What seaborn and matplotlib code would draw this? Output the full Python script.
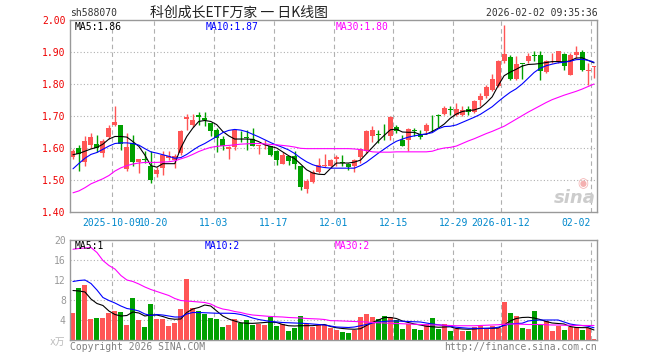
import matplotlib
matplotlib.use("Agg")
import numpy as np
import pandas as pd
import matplotlib.pyplot as plt
import seaborn as sns

# ---------- data ----------
tick_pos = [7, 14, 24, 34, 44, 54, 64, 72, 87]
tick_labels = ["2025-10-09", "10-20", "11-03", "11-17", "12-01",
               "12-15", "12-29", "2026-01-12", "02-02"]

opens = [1.572, 1.600, 1.555, 1.609, 1.614, 1.584, 1.634, 1.672, 1.673, 1.533,
         1.615, 1.557, 1.567, 1.545, 1.518, 1.537, 1.569, 1.564, 1.584, 1.691,
         1.673, 1.703, 1.695, 1.678, 1.655, 1.628, 1.598, 1.602, 1.637, 1.632,
         1.628, 1.606, 1.608, 1.605, 1.592, 1.551, 1.574, 1.576, 1.543, 1.473,
         1.494, 1.525, 1.544, 1.543, 1.565, 1.554, 1.551, 1.545, 1.571, 1.590,
         1.6365, 1.643, 1.651, 1.6365, 1.666, 1.626, 1.626, 1.656, 1.644, 1.652,
         1.684, 1.703, 1.707, 1.721, 1.704, 1.704, 1.722, 1.7125, 1.751, 1.761,
         1.782, 1.793, 1.873, 1.884, 1.816, 1.863, 1.871, 1.890, 1.892, 1.8375,
         1.880, 1.869, 1.895, 1.827, 1.892, 1.900, 1.841, 1.853]
closes = [1.592, 1.580, 1.623, 1.635, 1.599, 1.623, 1.662, 1.682, 1.612, 1.602,
          1.557, 1.567, 1.561, 1.501, 1.532, 1.579, 1.576, 1.574, 1.652, 1.696,
          1.688, 1.698, 1.689, 1.652, 1.630, 1.607, 1.602, 1.655, 1.636, 1.631,
          1.607, 1.608, 1.610, 1.579, 1.5635, 1.577, 1.558, 1.551, 1.477, 1.496,
          1.525, 1.547, 1.546, 1.561, 1.571, 1.553, 1.540, 1.5635, 1.597, 1.652,
          1.657, 1.641, 1.649, 1.696, 1.652, 1.607, 1.659, 1.654, 1.633, 1.673,
          1.683, 1.701, 1.725, 1.719, 1.723, 1.720, 1.711, 1.748, 1.761, 1.790,
          1.817, 1.873, 1.895, 1.817, 1.8625, 1.862, 1.889, 1.889, 1.840, 1.871,
          1.882, 1.902, 1.855, 1.892, 1.900, 1.845, 1.843, 1.855]
highs = [1.598, 1.609, 1.636, 1.647, 1.642, 1.628, 1.673, 1.730, 1.673, 1.647,
         1.642, 1.567, 1.590, 1.590, 1.540, 1.590, 1.590, 1.580, 1.655, 1.707,
         1.707, 1.714, 1.714, 1.678, 1.662, 1.6385, 1.605, 1.659, 1.652, 1.657,
         1.6625, 1.609, 1.626, 1.606, 1.595, 1.5875, 1.574, 1.590, 1.543, 1.503,
         1.530, 1.569, 1.581, 1.567, 1.5785, 1.579, 1.553, 1.567, 1.600, 1.655,
         1.670, 1.657, 1.675, 1.699, 1.673, 1.640, 1.6625, 1.6625, 1.657, 1.678,
         1.704, 1.707, 1.730, 1.730, 1.741, 1.730, 1.730, 1.751, 1.772, 1.798,
         1.831, 1.876, 1.985, 1.892, 1.886, 1.864, 1.897, 1.904, 1.902, 1.876,
         1.897, 1.904, 1.897, 1.897, 1.918, 1.907, 1.866, 1.856]
lows = [1.565, 1.527, 1.545, 1.600, 1.586, 1.571, 1.628, 1.670, 1.595, 1.527,
        1.543, 1.522, 1.553, 1.490, 1.510, 1.517, 1.564, 1.537, 1.579, 1.657,
        1.665, 1.673, 1.670, 1.636, 1.586, 1.595, 1.567, 1.595, 1.619, 1.595,
        1.605, 1.581, 1.598, 1.574, 1.547, 1.551, 1.548, 1.534, 1.470, 1.459,
        1.491, 1.522, 1.540, 1.537, 1.5425, 1.5425, 1.532, 1.526, 1.553, 1.584,
        1.619, 1.616, 1.626, 1.624, 1.647, 1.605, 1.592, 1.6365, 1.628, 1.645,
        1.652, 1.666, 1.704, 1.704, 1.701, 1.701, 1.704, 1.709, 1.730, 1.756,
        1.777, 1.791, 1.866, 1.8135, 1.8135, 1.817, 1.866, 1.871, 1.8135, 1.834,
        1.866, 1.866, 1.843, 1.827, 1.881, 1.840, 1.798, 1.819]

ma5 = [1.579, 1.583, 1.590, 1.597, 1.602, 1.612, 1.628, 1.636, 1.636, 1.634,
       1.620, 1.605, 1.578, 1.545, 1.540, 1.551, 1.551, 1.551, 1.600, 1.636,
       1.662, 1.683, 1.686, 1.683, 1.673, 1.652, 1.638, 1.628, 1.628, 1.628,
       1.627, 1.620, 1.610, 1.605, 1.600, 1.588, 1.576, 1.567, 1.550, 1.532,
       1.522, 1.518, 1.517, 1.536, 1.553, 1.553, 1.553, 1.556, 1.562, 1.582,
       1.602, 1.622, 1.640, 1.657, 1.659, 1.650, 1.649, 1.649, 1.642, 1.643,
       1.652, 1.662, 1.675, 1.693, 1.706, 1.714, 1.717, 1.719, 1.725, 1.741,
       1.760, 1.795, 1.826, 1.837, 1.846, 1.856, 1.861, 1.862, 1.864, 1.867,
       1.870, 1.870, 1.869, 1.872, 1.881, 1.882, 1.874, 1.866]
ma10 = [1.535, 1.552, 1.568, 1.580, 1.586, 1.596, 1.606, 1.614, 1.616, 1.616,
        1.614, 1.609, 1.598, 1.588, 1.584, 1.579, 1.574, 1.568, 1.570, 1.580,
        1.593, 1.605, 1.614, 1.625, 1.636, 1.648, 1.655, 1.658, 1.656, 1.651,
        1.643, 1.635, 1.626, 1.617, 1.609, 1.602, 1.594, 1.583, 1.569, 1.557,
        1.548, 1.542, 1.539, 1.537, 1.537, 1.537, 1.537, 1.537, 1.545, 1.556,
        1.570, 1.584, 1.597, 1.610, 1.621, 1.628, 1.634, 1.638, 1.641, 1.644,
        1.648, 1.660, 1.667, 1.668, 1.672, 1.680, 1.688, 1.696, 1.705, 1.717,
        1.729, 1.745, 1.760, 1.774, 1.785, 1.800, 1.818, 1.836, 1.849, 1.857,
        1.862, 1.866, 1.868, 1.871, 1.876, 1.877, 1.874, 1.868]
ma30 = [1.460, 1.466, 1.476, 1.488, 1.496, 1.504, 1.514, 1.528, 1.538, 1.545,
        1.550, 1.553, 1.555, 1.555, 1.555, 1.556, 1.557, 1.560, 1.566, 1.572,
        1.580, 1.589, 1.596, 1.602, 1.605, 1.607, 1.608, 1.610, 1.612, 1.613,
        1.614, 1.614, 1.613, 1.611, 1.610, 1.608, 1.606, 1.603, 1.599, 1.598,
        1.598, 1.598, 1.598, 1.598, 1.598, 1.598, 1.598, 1.597, 1.595, 1.592,
        1.588, 1.587, 1.587, 1.587, 1.588, 1.588, 1.588, 1.588, 1.588, 1.588,
        1.590, 1.596, 1.600, 1.602, 1.606, 1.614, 1.622, 1.629, 1.637, 1.645,
        1.652, 1.660, 1.668, 1.679, 1.690, 1.701, 1.712, 1.722, 1.732, 1.742,
        1.751, 1.758, 1.765, 1.771, 1.777, 1.784, 1.792, 1.800]

# volume in 万 (x10k)
volumes = [5.47, 10.47, 11.0, 4.27, 4.47, 4.47, 5.4, 5.8, 5.6, 3.0,
           8.47, 4.07, 2.67, 7.2, 4.2, 4.27, 2.87, 3.4, 6.2, 12.2,
           6.33, 5.8, 5.2, 4.47, 4.27, 2.67, 3.07, 4.27, 3.33, 4.0,
           3.07, 3.27, 3.07, 4.67, 2.87, 3.2, 1.87, 2.47, 4.8, 3.13,
           2.67, 3.0, 3.0, 2.47, 2.0, 1.67, 1.47, 2.0, 4.67, 5.2,
           4.67, 4.2, 4.8, 4.53, 4.0, 2.2, 3.13, 2.2, 2.0, 3.2,
           4.4, 2.2, 3.2, 1.8, 2.2, 1.8, 1.8, 2.67, 2.8, 2.47,
           2.87, 2.47, 7.67, 5.33, 4.8, 2.47, 2.2, 5.8, 3.0, 3.87,
           1.8, 2.87, 2.0, 2.53, 2.67, 2.0, 2.33, 0.2]
vma5 = [9.9, 9.8, 9.6, 8.2, 7.3, 6.9, 5.8, 5.1, 4.8, 4.9,
        5.6, 5.4, 4.8, 5.0, 5.0, 4.7, 4.3, 4.15, 4.2, 5.5,
        6.2, 6.5, 7.0, 6.8, 5.8, 4.8, 4.2, 3.8, 3.45, 3.35,
        3.33, 3.4, 3.5, 3.6, 3.5, 3.1, 2.85, 2.8, 2.85, 2.87,
        2.87, 3.0, 3.1, 2.7, 2.45, 2.3, 2.2, 2.15, 2.25, 2.9,
        3.5, 4.0, 4.5, 4.5, 4.3, 3.8, 3.5, 3.2, 3.0, 2.75,
        2.65, 2.55, 2.6, 2.65, 2.3, 2.2, 2.15, 2.2, 2.3, 2.33,
        2.33, 2.4, 3.0, 3.8, 4.3, 4.5, 4.55, 4.4, 4.1, 3.7,
        3.4, 3.3, 3.2, 2.7, 2.5, 2.47, 2.47, 2.0]
vma10 = [11.7, 11.9, 12.0, 11.3, 10.0, 8.5, 7.9, 7.4, 6.8, 6.3,
         6.1, 5.8, 5.2, 4.9, 5.1, 5.0, 4.8, 4.6, 4.6, 5.2,
         5.5, 5.5, 5.45, 5.4, 5.35, 5.35, 5.35, 5.3, 5.1, 4.8,
         4.4, 4.1, 3.9, 3.7, 3.6, 3.5, 3.45, 3.4, 3.35, 3.3,
         3.2, 3.1, 3.0, 2.8, 2.6, 2.55, 2.5, 2.6, 2.85, 3.1,
         3.4, 3.6, 3.7, 3.8, 3.8, 3.75, 3.7, 3.65, 3.6, 3.4,
         3.2, 3.05, 2.9, 2.75, 2.55, 2.45, 2.35, 2.33, 2.33, 2.33,
         2.4, 2.55, 2.9, 3.2, 3.3, 3.35, 3.8, 3.95, 4.0, 4.0,
         4.0, 4.0, 3.6, 3.2, 3.0, 2.9, 2.75, 2.45]
vma30 = [18.15, 18.3, 18.4, 18.5, 17.5, 15.9, 14.9, 14.2, 12.9, 12.0,
         11.7, 11.2, 10.6, 10.1, 9.7, 9.3, 8.9, 8.3, 7.9, 7.8,
         7.7, 7.6, 7.5, 7.2, 6.6, 6.2, 6.0, 5.7, 5.5, 5.2,
         5.0, 4.9, 4.8, 4.7, 4.65, 4.6, 4.5, 4.45, 4.4, 4.3,
         4.25, 4.2, 4.1, 3.87, 3.85, 3.8, 3.75, 3.7, 3.65, 3.6,
         3.5, 3.45, 3.4, 3.35, 3.3, 3.25, 3.2, 3.15, 3.1, 3.05,
         3.0, 3.0, 2.95, 2.9, 2.85, 2.85, 2.85, 2.85, 2.9, 2.95,
         3.0, 3.05, 3.15, 3.2, 3.2, 3.15, 3.1, 3.1, 3.1, 3.05,
         3.0, 3.0, 2.95, 2.95, 2.9, 2.9, 2.9, 2.9]

# ---------- style ----------
sns.set_style("white")
plt.rcParams["font.family"] = ["DejaVu Sans Mono", "Noto Sans CJK SC"]
RED = "#ff5555"
GREEN = "#00a000"
GRID = "#b0b0b0"
EDGE = "#999999"
MONO = 7

df = pd.DataFrame({"i": np.arange(len(opens)), "open": opens, "close": closes,
                   "high": highs, "low": lows, "vol": volumes})
df["up"] = df["close"] >= df["open"]
colors = np.where(df["up"], RED, GREEN)

fig = plt.figure(figsize=(6.6, 3.6), dpi=100)
W, H = 660, 360
ax1 = fig.add_axes([70 / W, 148 / H, 527 / W, 192 / H])
ax2 = fig.add_axes([70 / W, 20 / H, 527 / W, 100 / H])

for ax in (ax1, ax2):
    ax.set_xlim(-0.5, len(opens) - 0.5)
    for s in ax.spines.values():
        s.set_color(EDGE)
        s.set_linewidth(1.0)
    for p in tick_pos:
        ax.axvline(p - 0.5, color=GRID, lw=0.8, ls=(0, (4, 3)), zorder=0)
    ax.tick_params(length=0)

# ---------- price panel (candles) ----------
ax1.set_ylim(1.40, 2.00)
for yv in [1.5, 1.6, 1.7, 1.8, 1.9]:
    ax1.axhline(yv, color=GRID, lw=0.8, ls=(0, (1, 2)), zorder=0)

ax1.vlines(df["i"], df["low"], df["high"], colors=colors, lw=1.0, zorder=2)
body = np.maximum((df["close"] - df["open"]).abs(), 0.0025)
ax1.bar(df["i"], body, bottom=np.minimum(df["open"], df["close"]),
        width=0.83, color=colors, linewidth=0, zorder=3)

sns.lineplot(x=df["i"], y=ma5, color="black", lw=0.8, ax=ax1, zorder=4)
sns.lineplot(x=df["i"], y=ma10, color="#0000ff", lw=0.8, ax=ax1, zorder=4)
sns.lineplot(x=df["i"], y=ma30, color="#ff00ff", lw=0.8, ax=ax1, zorder=4)

yt = [1.4, 1.5, 1.6, 1.7, 1.8, 1.9, 2.0]
ax1.set_yticks(yt)
ax1.set_yticklabels([f"{v:.2f}" for v in yt], color="#ee0000", fontsize=MONO)
ax1.tick_params(axis="y", pad=3)
ax1.set_xticks([p - 0.5 for p in tick_pos])
ax1.set_xticklabels(tick_labels, color="#0088cc", fontsize=MONO)
ax1.tick_params(axis="x", pad=4)
ax1.get_xticklabels()[-1].set_ha("right")
ax1.set_xlabel("")
ax1.set_ylabel("")

# ---------- volume panel ----------
ax2.bar(df["i"], df["vol"], width=0.83, color=colors, linewidth=0, zorder=2)
ax2.set_ylim(0, 20)
for yv in [4, 8, 12, 16]:
    ax2.axhline(yv, color=GRID, lw=0.8, ls=(0, (1, 2)), zorder=0)
sns.lineplot(x=df["i"], y=vma5, color="black", lw=0.8, ax=ax2, zorder=4)
sns.lineplot(x=df["i"], y=vma10, color="#0000ff", lw=0.8, ax=ax2, zorder=4)
sns.lineplot(x=df["i"], y=vma30, color="#ff00ff", lw=0.8, ax=ax2, zorder=4)
ax2.set_yticks([4, 8, 12, 16, 20])
ax2.set_yticklabels(["4", "8", "12", "16", "20"], color="#999999", fontsize=MONO)
ax2.tick_params(axis="y", pad=3)
ax2.set_xticks([])
ax2.set_xlabel("")
ax2.set_ylabel("")


# ---------- texts ----------
def put(x, y, s, **kw):
    fig.text(x / W, 1 - y / H, s, va="center", **kw)


put(70, 13, "sh588070", fontsize=MONO, color="#333333")
put(150, 13, "科创成长ETF万家 一 日K线图", fontsize=10, color="#222222",
    family=["Noto Sans CJK SC", "DejaVu Sans"])
put(598, 13, "2026-02-02 09:35:36", fontsize=MONO, color="#333333", ha="right")

put(75, 27, "MA5:1.86", fontsize=MONO, color="black")
put(206, 27, "MA10:1.87", fontsize=MONO, color="#0000ff")
put(336, 27, "MA30:1.80", fontsize=MONO, color="#ff00ff")

put(75, 246, "MA5:1", fontsize=MONO, color="black")
put(205, 246, "MA10:2", fontsize=MONO, color="#0000ff")
put(335, 246, "MA30:2", fontsize=MONO, color="#ff00ff")

put(50, 342, "x万", fontsize=MONO, color="#bbbbbb",
    family=["DejaVu Sans Mono", "Noto Sans CJK SC"])
put(70, 347, "Copyright 2026 SINA.COM", fontsize=MONO, color="#808080")
put(597, 347, "http://finance.sina.com.cn", fontsize=MONO, color="#808080", ha="right")

put(583, 184, "◉", fontsize=9, color="#f4b0b0", ha="center",
    family="DejaVu Sans")
put(596, 198, "sina", fontsize=13, color="#cccccc", ha="right",
    style="italic", weight="bold", family="DejaVu Sans")

fig.savefig("out.png", dpi=100)
